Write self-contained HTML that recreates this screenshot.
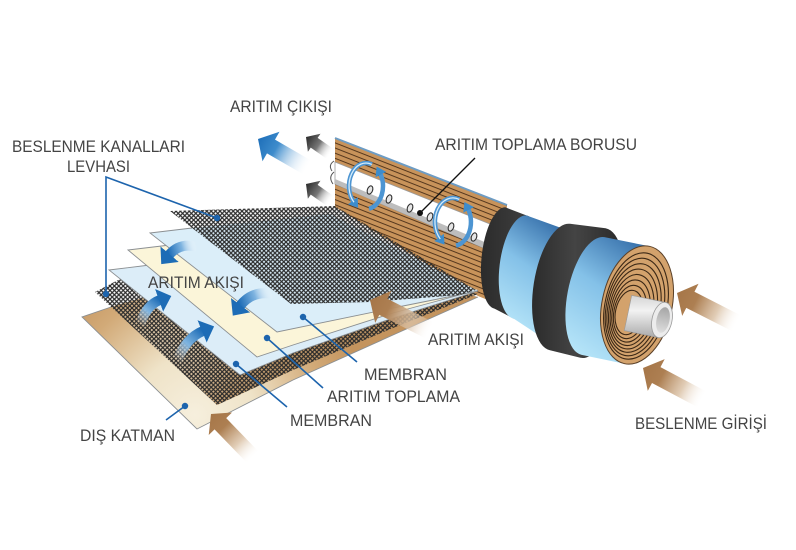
<!DOCTYPE html>
<html><head><meta charset="utf-8"><style>
html,body{margin:0;padding:0;background:#fff;}
svg{display:block;}
text{font-family:"Liberation Sans",Arial,sans-serif;font-size:17px;fill:#444;}
</style></head><body>
<svg width="796" height="550" viewBox="0 0 796 550" xmlns="http://www.w3.org/2000/svg">
<defs>
 <pattern id="mesh" width="4.4" height="4.4" patternUnits="userSpaceOnUse">
  <path d="M-1,-1 L5.4,5.4 M5.4,-1 L-1,5.4" stroke="#2b2b2b" stroke-width="1.25" fill="none"/>
 </pattern>
 <pattern id="wood" width="20" height="4.8" patternUnits="userSpaceOnUse" patternTransform="rotate(21.5)">
  <rect width="20" height="4.8" fill="#c8935a"/>
  <rect width="20" height="1" fill="#55371d"/>
 </pattern>
 <radialGradient id="gTan" gradientUnits="userSpaceOnUse" cx="195" cy="415" r="170">
  <stop offset="0" stop-color="#f6efdd"/><stop offset="0.35" stop-color="#efe3c8"/>
  <stop offset="0.75" stop-color="#d2aa78"/><stop offset="1" stop-color="#c4945e"/>
 </radialGradient>
 <linearGradient id="gMU" gradientUnits="userSpaceOnUse" x1="100" y1="290" x2="230" y2="390">
  <stop offset="0" stop-color="#ffffff" stop-opacity="0"/><stop offset="1" stop-color="#c39866" stop-opacity="0.85"/>
 </linearGradient>
 <linearGradient id="gB1" gradientUnits="userSpaceOnUse" x1="505" y1="320" x2="570" y2="225">
  <stop offset="0" stop-color="#b5e4f8"/><stop offset="0.5" stop-color="#84c1e8"/><stop offset="1" stop-color="#2d66a3"/>
 </linearGradient>
 <linearGradient id="gB2" gradientUnits="userSpaceOnUse" x1="575" y1="350" x2="650" y2="240">
  <stop offset="0" stop-color="#b5e4f8"/><stop offset="0.5" stop-color="#84c1e8"/><stop offset="1" stop-color="#2d66a3"/>
 </linearGradient>
 <linearGradient id="gK1" gradientUnits="userSpaceOnUse" x1="481" y1="0" x2="526" y2="0">
  <stop offset="0" stop-color="#2b2b2b"/><stop offset="1" stop-color="#3e3e3e"/>
 </linearGradient>
 <linearGradient id="gK2" gradientUnits="userSpaceOnUse" x1="530" y1="0" x2="620" y2="0">
  <stop offset="0" stop-color="#2a2a2a"/><stop offset="0.5" stop-color="#444"/><stop offset="1" stop-color="#2b2b2b"/>
 </linearGradient>
 <linearGradient id="gP" gradientUnits="userSpaceOnUse" x1="0" y1="296" x2="0" y2="338">
  <stop offset="0" stop-color="#d6d6d6"/><stop offset="0.35" stop-color="#f2f2f2"/><stop offset="1" stop-color="#a9a9a9"/>
 </linearGradient>
 <linearGradient id="gPi" gradientUnits="userSpaceOnUse" x1="0" y1="307" x2="0" y2="333">
  <stop offset="0" stop-color="#a5a5a5"/><stop offset="1" stop-color="#dedede"/>
 </linearGradient>
 <linearGradient id="gBr" gradientUnits="userSpaceOnUse" x1="0" y1="0" x2="68" y2="0">
  <stop offset="0" stop-color="#a67648"/><stop offset="0.3" stop-color="#ad7f52"/>
  <stop offset="0.65" stop-color="#d9bfa2" stop-opacity="0.8"/><stop offset="1" stop-color="#ffffff" stop-opacity="0"/>
 </linearGradient>
 <linearGradient id="gBl" gradientUnits="userSpaceOnUse" x1="0" y1="0" x2="58" y2="0">
  <stop offset="0" stop-color="#1e6fb9"/><stop offset="0.35" stop-color="#3e8ccc"/>
  <stop offset="1" stop-color="#ffffff" stop-opacity="0"/>
 </linearGradient>
 <linearGradient id="gGr" gradientUnits="userSpaceOnUse" x1="0" y1="0" x2="30" y2="0">
  <stop offset="0" stop-color="#2a2a2a"/><stop offset="0.5" stop-color="#777"/>
  <stop offset="1" stop-color="#ffffff" stop-opacity="0"/>
 </linearGradient>
 <linearGradient id="gF1" gradientUnits="userSpaceOnUse" x1="197" y1="247" x2="169" y2="255">
  <stop offset="0" stop-color="#fff" stop-opacity="0"/><stop offset="0.5" stop-color="#7fb4e0"/><stop offset="1" stop-color="#1d6cb6"/>
 </linearGradient>
 <linearGradient id="gF2" gradientUnits="userSpaceOnUse" x1="273" y1="294" x2="240" y2="306">
  <stop offset="0" stop-color="#fff" stop-opacity="0"/><stop offset="0.5" stop-color="#7fb4e0"/><stop offset="1" stop-color="#1d6cb6"/>
 </linearGradient>
 <linearGradient id="gF3" gradientUnits="userSpaceOnUse" x1="140" y1="325" x2="160" y2="300">
  <stop offset="0" stop-color="#fff" stop-opacity="0"/><stop offset="0.5" stop-color="#7fb4e0"/><stop offset="1" stop-color="#1d6cb6"/>
 </linearGradient>
 <linearGradient id="gF4" gradientUnits="userSpaceOnUse" x1="177" y1="361" x2="203" y2="331">
  <stop offset="0" stop-color="#fff" stop-opacity="0"/><stop offset="0.5" stop-color="#7fb4e0"/><stop offset="1" stop-color="#1d6cb6"/>
 </linearGradient>
 <marker id="fh" markerUnits="userSpaceOnUse" markerWidth="16" markerHeight="24" refX="1" refY="12" orient="auto">
  <path d="M0,0 L13,12 L0,24 Z" fill="#1d6cb6"/>
 </marker>
 <marker id="ch" markerUnits="userSpaceOnUse" markerWidth="11" markerHeight="12" refX="2" refY="6" orient="auto">
  <path d="M0,0 L9,6 L0,12 Z" fill="#3d8ccb"/>
 </marker>
</defs>

<!-- brown cut body -->
<polygon points="335,138 507,205 500,305 478,296 335,207" fill="url(#wood)"/>
<line x1="335" y1="138" x2="507" y2="205" stroke="#6d9cc4" stroke-width="2"/>
<!-- tube -->
<polygon points="335,162 495,226 493,252 335,184" fill="#ffffff" stroke="#9a9a9a" stroke-width="0.8"/>
<polygon points="335,179 494,246 493,252 335,184" fill="#bdbdbd"/>
<g fill="#e6e6e6" stroke="#333" stroke-width="1.1">
 <ellipse cx="370" cy="190" rx="2.6" ry="4.3" transform="rotate(20 370 190)"/>
 <ellipse cx="389" cy="199" rx="2.6" ry="4.3" transform="rotate(20 389 199)"/>
 <ellipse cx="410" cy="208" rx="2.6" ry="4.3" transform="rotate(20 410 208)"/>
 <ellipse cx="430" cy="217" rx="2.6" ry="4.3" transform="rotate(20 430 217)"/>
 <ellipse cx="451" cy="227" rx="2.6" ry="4.3" transform="rotate(20 451 227)"/>
 <ellipse cx="474" cy="237" rx="2.6" ry="4.3" transform="rotate(20 474 237)"/>
</g>
<path d="M334,161 q-6,4 -2,10 M334,172 q-6,5 -1,12" stroke="#555" stroke-width="1" fill="none"/>

<!-- sheets -->
<polygon points="82,317 114,306 300,252 478,297 393,335 293,380 197,429" fill="url(#gTan)"/>
<polyline points="114,306 82,317 197,429 293,380 393,335 478,297" fill="none" stroke="#8b8f92" stroke-width="0.9"/>
<polygon points="95,292 122,278 300,248 478,294 393,328 293,370 217,405" fill="url(#gMU)"/>
<polygon points="95,292 122,278 300,248 478,294 393,328 293,370 217,405" fill="url(#mesh)"/>
<polygon points="109,270 150,265 300,244 478,291 393,318 293,353 240,375" fill="#dcedf8"/>
<polyline points="150,265 109,270 240,375 293,353 393,318 478,291" fill="none" stroke="#8b8f92" stroke-width="0.9"/>
<polygon points="128,250 170,245 300,236 478,290 393,313 293,345 257,357" fill="#fbf5d9"/>
<polyline points="170,245 128,250 257,357 293,345 393,313 478,290" fill="none" stroke="#8b8f92" stroke-width="0.9"/>
<polygon points="150,233 192,228 330,214 478,291 393,308 277,332" fill="#dbeef9"/>
<polyline points="192,228 150,233 277,332 393,308 478,291" fill="none" stroke="#8b8f92" stroke-width="0.9"/>
<polygon points="170,211 335,206 476,290 460,295 370,302 291,304" fill="url(#mesh)"/>

<!-- circular arrows -->
<g fill="none" stroke="#4d95d2" stroke-width="4.5" marker-end="url(#ch)">
 <path d="M371.8,164.4 A17,23 0 0 0 354,202.3"/>
 <path d="M369,208.7 A17,23 0 0 0 379.9,172.8"/>
 <path d="M459.2,199.4 A18,24 0 0 0 440.3,239"/>
 <path d="M456.1,245.6 A18,24 0 0 0 467.7,208.2"/>
</g>
<g fill="none" stroke="#d5ecfa" stroke-width="1.3">
 <path d="M371.8,164.4 A17,23 0 0 0 354,202.3"/>
 <path d="M459.2,199.4 A18,24 0 0 0 440.3,239"/>
</g>

<!-- cylinder bands -->
<path d="M505.3,207.3 A19,51 6 0 0 494.7,308.7 L513.7,318.6 A21,52 7 0 0 526.3,215.4 Z" fill="url(#gK1)"/>
<path d="M526.3,215.4 A21,52 7 0 0 513.7,318.6 L551.1,343.3 A24,57 9 0 0 568.9,230.7 Z" fill="url(#gB1)"/>
<path d="M570,223.8 A27,64 9 0 0 550,350.2 L580.4,357.8 A28,66 11 0 0 605.6,228.2 Z" fill="url(#gK2)"/>
<path d="M604.4,237.1 A26,60 11 0 0 581.6,354.9 L624.5,363.7 A35,60 12 0 0 649.5,246.3 Z" fill="url(#gB2)"/>
<!-- end face -->
<ellipse cx="637" cy="305" rx="35" ry="60" transform="rotate(12 637 305)" fill="#d3a26c" stroke="#5a4028" stroke-width="1"/>
<g fill="none" stroke="#3b2816" stroke-width="1.1">
 <ellipse cx="636" cy="306" rx="31" ry="54" transform="rotate(12 636 306)"/>
 <ellipse cx="635" cy="307" rx="28.5" ry="49.5" transform="rotate(12 635 307)"/>
 <ellipse cx="634" cy="308" rx="26" ry="45" transform="rotate(12 634 308)"/>
 <ellipse cx="633" cy="309" rx="23.5" ry="40.5" transform="rotate(12 633 309)"/>
 <ellipse cx="632" cy="310" rx="21" ry="36" transform="rotate(12 632 310)"/>
 <ellipse cx="631" cy="311" rx="18.5" ry="31.5" transform="rotate(12 631 311)"/>
 <ellipse cx="630" cy="312" rx="16" ry="27" transform="rotate(12 630 312)"/>
 <ellipse cx="629" cy="312.5" rx="13.5" ry="22.5" transform="rotate(12 629 312.5)"/>
</g>
<!-- pipe -->
<path d="M631.7,295.4 L665.7,302.4 A10,18 12 0 1 658.3,337.6 L624.3,330.6 Z" fill="url(#gP)" stroke="#9a9a9a" stroke-width="0.6"/>
<ellipse cx="662" cy="320" rx="10" ry="18" transform="rotate(12 662 320)" fill="#ececec" stroke="#9a9a9a" stroke-width="0.8"/>
<ellipse cx="663" cy="320" rx="6.5" ry="13" transform="rotate(12 663 320)" fill="url(#gPi)"/>

<!-- brown feed arrows -->
<g fill="url(#gBr)">
 <path transform="translate(677,293) rotate(27)" d="M0,0 L15,-18 L15,-9 L68,-9 L68,9 L15,9 L15,18 Z"/>
 <path transform="translate(643,368) rotate(28)" d="M0,0 L15,-18 L15,-9 L68,-9 L68,9 L15,9 L15,18 Z"/>
 <path transform="translate(370,300) rotate(27)" d="M0,0 L15,-18 L15,-9 L68,-9 L68,9 L15,9 L15,18 Z"/>
 <path transform="translate(211,414) rotate(46) scale(0.9)" d="M0,0 L15,-18 L15,-9 L68,-9 L68,9 L15,9 L15,18 Z"/>
</g>
<!-- permeate out arrows -->
<path transform="translate(258,139) rotate(30)" d="M0,0 L15,-17 L15,-8 L58,-8 L58,8 L15,8 L15,17 Z" fill="url(#gBl)"/>
<g fill="url(#gGr)">
 <path transform="translate(306,137) rotate(35)" d="M0,0 L10,-11 L10,-6 L30,-6 L30,6 L10,6 L10,11 Z"/>
 <path transform="translate(306,184) rotate(35)" d="M0,0 L10,-11 L10,-6 L30,-6 L30,6 L10,6 L10,11 Z"/>
</g>
<!-- flow arrows -->
<g fill="none" stroke-width="10" marker-end="url(#fh)">
 <path d="M197,247 Q180,242 169,255" stroke="url(#gF1)"/>
 <path d="M273,294 Q252,290 240,306" stroke="url(#gF2)"/>
 <path d="M140,325 Q146,305 160,300" stroke="url(#gF3)"/>
 <path d="M177,361 Q186,338 203,331" stroke="url(#gF4)"/>
</g>

<!-- leaders -->
<g stroke="#1d64ad" stroke-width="1.6" fill="none">
 <polyline points="217,218 106,177 106,294"/>
 <line x1="303" y1="317" x2="357" y2="362"/>
 <line x1="267" y1="338" x2="323" y2="388"/>
 <line x1="236" y1="364" x2="287" y2="407"/>
 <line x1="185" y1="406" x2="166" y2="420"/>
</g>
<g fill="#1d64ad">
 <circle cx="217" cy="218" r="3.2"/><circle cx="106" cy="294" r="3.2"/>
 <circle cx="303" cy="317" r="3.2"/><circle cx="267" cy="338" r="3.2"/>
 <circle cx="236" cy="364" r="3.2"/><circle cx="185" cy="406" r="3.2"/>
</g>
<line x1="475" y1="158" x2="420" y2="213" stroke="#111" stroke-width="1.3"/>
<circle cx="420" cy="213" r="3" fill="#111"/>

<!-- labels -->
<text x="230" y="112" textLength="102" lengthAdjust="spacingAndGlyphs">ARITIM ÇIKIŞI</text>
<text x="12" y="152" textLength="173" lengthAdjust="spacingAndGlyphs">BESLENME KANALLARI</text>
<text x="67" y="172" textLength="63" lengthAdjust="spacingAndGlyphs">LEVHASI</text>
<text x="435" y="150" textLength="202" lengthAdjust="spacingAndGlyphs">ARITIM TOPLAMA BORUSU</text>
<text x="148" y="288" textLength="96" lengthAdjust="spacingAndGlyphs">ARITIM AKIŞI</text>
<text x="428" y="345" textLength="96" lengthAdjust="spacingAndGlyphs">ARITIM AKIŞI</text>
<text x="364" y="380" textLength="83" lengthAdjust="spacingAndGlyphs">MEMBRAN</text>
<text x="327" y="402" textLength="133" lengthAdjust="spacingAndGlyphs">ARITIM TOPLAMA</text>
<text x="290" y="426" textLength="82" lengthAdjust="spacingAndGlyphs">MEMBRAN</text>
<text x="80" y="441" textLength="95" lengthAdjust="spacingAndGlyphs">DIŞ KATMAN</text>
<text x="635" y="429" textLength="132" lengthAdjust="spacingAndGlyphs">BESLENME GİRİŞİ</text>
</svg>
</body></html>
